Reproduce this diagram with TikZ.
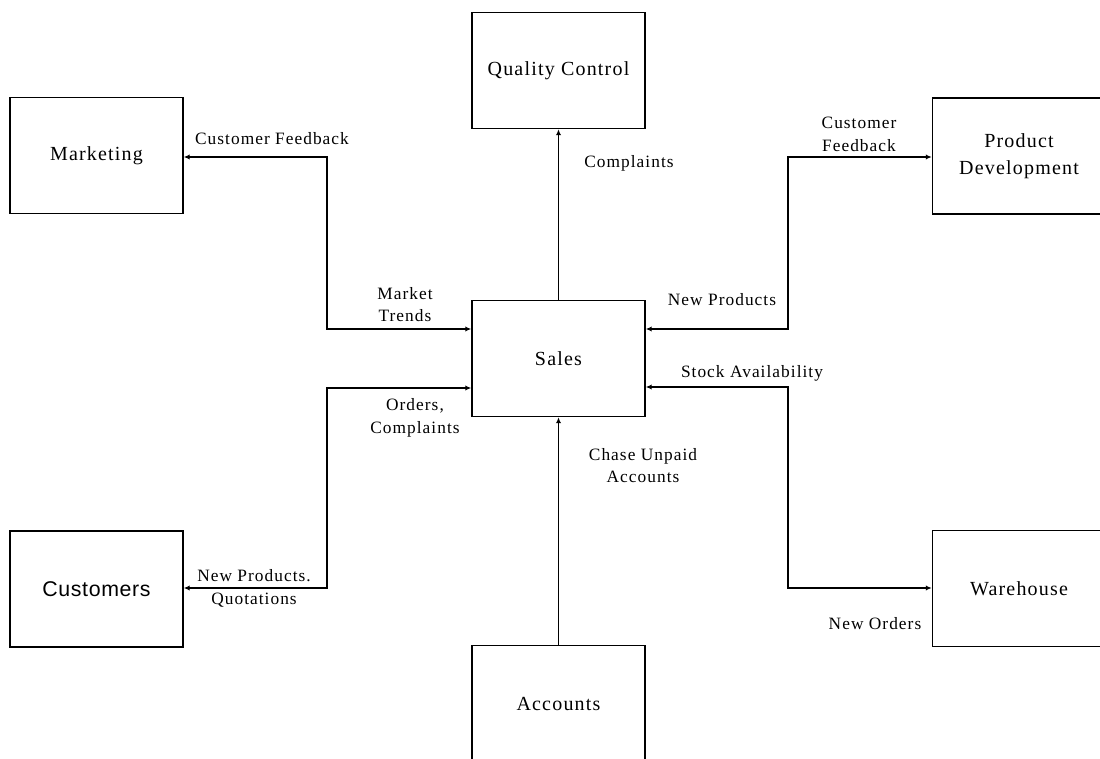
\documentclass[tikz,border=0pt]{standalone}
\usepackage{fontspec}
\setmainfont{Liberation Serif}[LetterSpace=6]
\newfontfamily\plainsans{Liberation Sans}[LetterSpace=3]
\usetikzlibrary{arrows.meta}

\begin{document}
\begin{tikzpicture}[x=0.75pt,y=-0.75pt,
  block/.style={draw, line width=1.1pt, inner sep=0pt, align=center,
    minimum width=129.75pt, minimum height=87pt,
    font=\fontsize{15}{20}\selectfont},
  tag/.style={inner sep=0pt, align=center, font=\fontsize{13}{17}\selectfont},
  link/.style={line width=0.9pt},
  tip/.style={-{Latex[length=4.5pt,width=4pt]}},
  tips/.style={{Latex[length=4.5pt,width=4pt]}-{Latex[length=4.5pt,width=4pt]}}]

\useasboundingbox (0,0) rectangle (1100,759);

% departments
\node[block] (qc)    at (558.5,70.5)  {Quality Control};
\node[block] (mk)    at (96.5,155.5)  {Marketing};
\node[block] (pd)    at (1019,156)    {Product\\Development};
\node[block] (sales) at (558.5,358.5) {Sales};
\node[block] (cu)    at (96.5,589)    {\plainsans\fontsize{16}{18}\selectfont Customers};
\node[block] (wh)    at (1019,588.5)  {Warehouse};
\node[block] (ac)    at (558.5,703.5) {Accounts};

% information flows
\draw[link,tips] (sales.west |- 0,329) -- (327,329) |- (mk.east |- 0,157);
\draw[link,tips] (sales.west |- 0,388) -- (327,388) |- (cu.east |- 0,588);
\draw[link,tips] (sales.east |- 0,329) -- (788,329) |- (pd.west |- 0,157);
\draw[link,tips] (sales.east |- 0,387) -- (788,387) |- (wh.west |- 0,588);
\draw[link,tip] (sales.north |- 0,301) -- (qc.south);
\draw[link,tip] (ac.north) -- (sales.south);

% flow labels
\node[tag] (t1) at (272,139)    {Customer Feedback};
\node[tag] (t2) at (405,304.5)  {Market\\Trends};
\node[tag] (t3) at (629,163)    {Complaints};
\node[tag] (t4) at (859,134.5)  {Customer\\Feedback};
\node[tag] (t5) at (722,300)    {New Products};
\node[tag] (t6) at (752,373)    {Stock Availability};
\node[tag] (t7) at (415,417.5)  {Orders,\\Complaints};
\node[tag] (t8) at (643,465.5)  {Chase Unpaid\\Accounts};
\node[tag] (t9) at (875,624)    {New Orders};
\node[tag] (t10) at (254,588.5) {New Products.\\Quotations};
\end{tikzpicture}
\end{document}
